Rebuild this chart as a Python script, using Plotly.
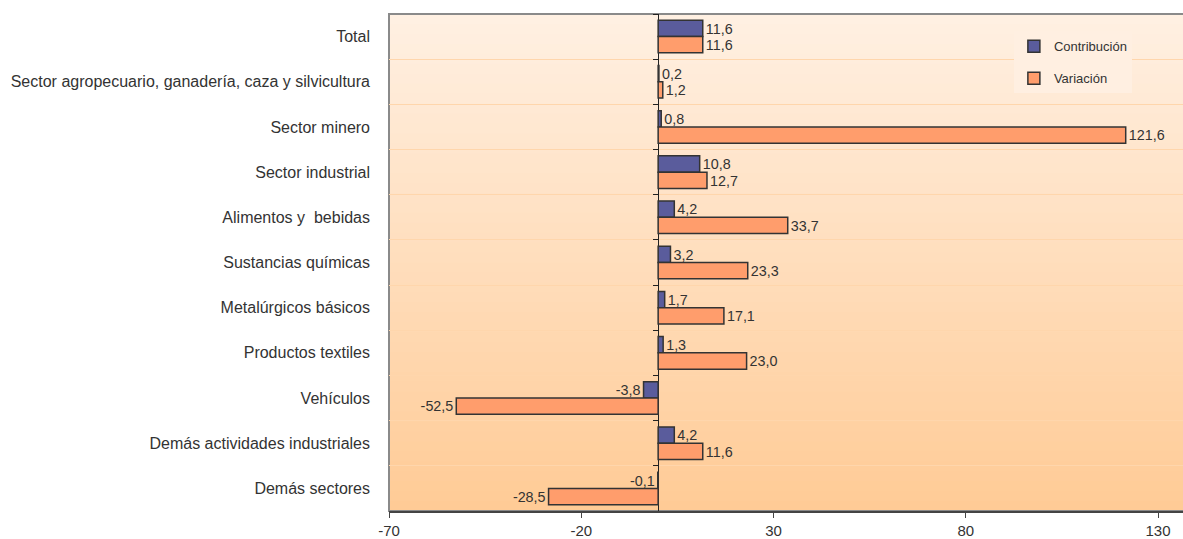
import plotly.graph_objects as go

categories = [
    "Total",
    "Sector agropecuario, ganadería, caza y silvicultura",
    "Sector minero",
    "Sector industrial",
    "Alimentos y  bebidas",
    "Sustancias químicas",
    "Metalúrgicos básicos",
    "Productos textiles",
    "Vehículos",
    "Demás actividades industriales",
    "Demás sectores",
]
contribucion = [11.6, 0.2, 0.8, 10.8, 4.2, 3.2, 1.7, 1.3, -3.8, 4.2, -0.1]
variacion = [11.6, 1.2, 121.6, 12.7, 33.7, 23.3, 17.1, 23.0, -52.5, 11.6, -28.5]
x_ticks = [-70, -20, 30, 80, 130]

X_MIN, X_MAX = -70, 136.5
FONT = "Liberation Sans, Arial, sans-serif"


def fmt(v):
    return f"{v:.1f}".replace(".", ",")


fig = go.Figure()
fig.add_trace(go.Bar(
    name="Contribución", y=categories, x=contribucion, orientation="h",
    marker=dict(color="#5A5C9C", line=dict(color="#333333", width=1.5)),
    text=[fmt(v) for v in contribucion], textposition="outside",
    textfont=dict(size=15, color="#333333"), cliponaxis=False,
    legendgroup="a",
))
fig.add_trace(go.Bar(
    name="Variación", y=categories, x=variacion, orientation="h",
    marker=dict(color="#FF9D6C", line=dict(color="#333333", width=1.5)),
    text=[fmt(v) for v in variacion], textposition="outside",
    textfont=dict(size=15, color="#333333"), cliponaxis=False,
    legendgroup="b",
))
# helper invisible trace for the zero-axis tick marks
fig.add_trace(go.Scatter(
    x=[0] * len(categories), y=categories, yaxis="y2", mode="markers",
    marker=dict(opacity=0), showlegend=False, hoverinfo="skip",
))

# vertical gradient background
shapes = []
n = 50
c0 = (255, 240, 226)
c1 = (255, 203, 150)
for i in range(n):
    t = i / (n - 1)
    col = tuple(round(c0[k] + (c1[k] - c0[k]) * t) for k in range(3))
    shapes.append(dict(
        type="rect", xref="paper", yref="paper", x0=0, x1=1.01,
        y0=max(0, 1 - (i + 1.6) / n), y1=1 - i / n, line=dict(width=0),
        fillcolor=f"rgb{col}", layer="below",
    ))
shapes.append(dict(type="rect", xref="paper", yref="paper", x0=0, x1=1.01,
                   y0=0, y1=1, line=dict(color="#8A8A8A", width=2), layer="below"))
zero_pos = (0 - X_MIN) / (X_MAX - X_MIN)

fig.update_layout(
    width=1183, height=539,
    margin=dict(l=389, r=0, t=14, b=26),
    paper_bgcolor="white", plot_bgcolor="rgba(0,0,0,0)",
    barmode="group", bargap=0.28, bargroupgap=0.0,
    font=dict(family=FONT, color="#333333"),
    shapes=shapes,
    xaxis=dict(
        range=[X_MIN, X_MAX], tickvals=x_ticks, ticktext=[str(v) for v in x_ticks],
        showgrid=False, zeroline=True, zerolinecolor="#222222", zerolinewidth=1.2,
        showline=True, linecolor="#444444", linewidth=1.5,
        ticks="outside", ticklen=5, tickcolor="#444444",
        tickfont=dict(size=15, color="#333333"),
    ),
    yaxis=dict(
        type="category", categoryarray=categories, range=[10.5, -0.5],
        tickson="boundaries", showgrid=True, gridcolor="#FFD6AC", gridwidth=1,
        ticks="", showline=False, ticklabelstandoff=18,
        tickfont=dict(size=16, color="#333333"),
    ),
    yaxis2=dict(
        type="category", categoryarray=categories, range=[10.5, -0.5],
        overlaying="y", anchor="free", position=zero_pos, side="left",
        tickson="boundaries", ticks="outside", ticklen=5, tickcolor="#222222",
        showticklabels=False, showgrid=False, showline=False,
    ),
    legend=dict(
        x=0.787, y=0.965, xanchor="left", yanchor="top",
        bgcolor="#FFEFE1", borderwidth=0, traceorder="grouped",
        tracegroupgap=12, font=dict(size=13, color="#333333"),
        itemwidth=30,
    ),
)

fig.write_html(
    "out.html",
    config={"displayModeBar": False},
    post_script="document.body.style.margin='0px';document.body.style.overflow='hidden';",
)
